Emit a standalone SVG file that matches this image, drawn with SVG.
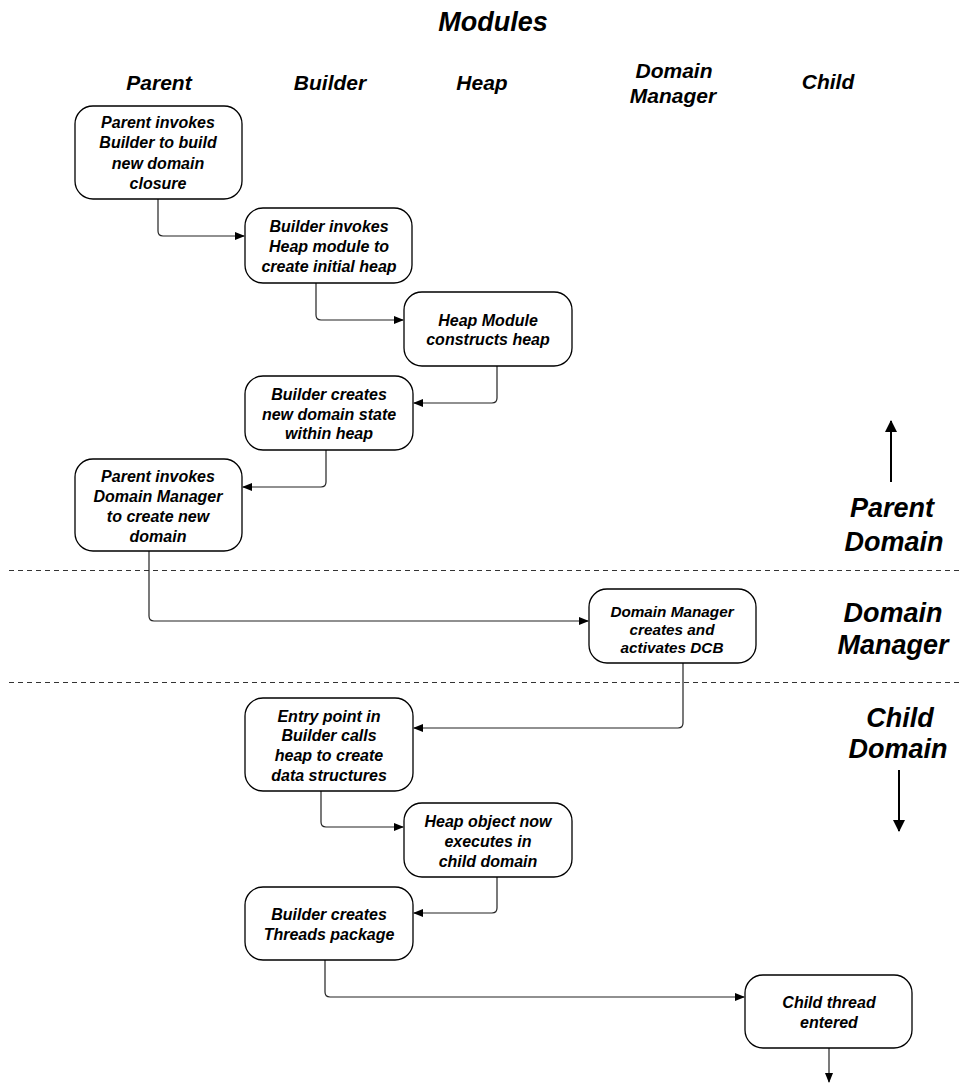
<svg xmlns="http://www.w3.org/2000/svg" width="962" height="1084" viewBox="0 0 962 1084">
  <style>
    text { font-family: "Liberation Sans", Arial, sans-serif; font-weight: bold; font-style: italic; fill: #000; text-anchor: middle; }
    .title { font-size: 27px; }
    .col { font-size: 21px; }
    .side { font-size: 27px; }
    .node rect { fill: #fff; stroke: #000; stroke-width: 1.3; }
    .node text { font-size: 16px; }
    .node text.sm { font-size: 15.3px; }
    .conn path { fill: none; stroke: #222; stroke-width: 1.2; }
    .sep { stroke: #333; stroke-width: 1; stroke-dasharray: 5 4; }
    .dir { stroke: #000; stroke-width: 2; }
  </style>
  <defs>
    <marker id="arr" markerWidth="10" markerHeight="8" refX="9" refY="4" orient="auto" markerUnits="userSpaceOnUse">
      <path d="M0,0 L10,4 L0,8 Z" fill="#000"/>
    </marker>
    <marker id="arrBig" markerWidth="12" markerHeight="12" refX="11" refY="6" orient="auto" markerUnits="userSpaceOnUse">
      <path d="M0,0 L12,6 L0,12 Z" fill="#000"/>
    </marker>
  </defs>

  <rect width="962" height="1084" fill="#fff"/>

  <!-- headings -->
  <text class="title" x="493" y="31">Modules</text>
  <text class="col" x="159" y="90">Parent</text>
  <text class="col" x="330" y="90">Builder</text>
  <text class="col" x="482" y="90">Heap</text>
  <text class="col" x="674" y="78">Domain</text>
  <text class="col" x="673" y="103">Manager</text>
  <text class="col" x="828" y="89">Child</text>

  <!-- domain separators -->
  <line class="sep" x1="9" y1="570.5" x2="962" y2="570.5"/>
  <line class="sep" x1="9" y1="682.5" x2="962" y2="682.5"/>

  <!-- domain labels and direction arrows -->
  <text class="side" x="892" y="517">Parent</text>
  <text class="side" x="894" y="551">Domain</text>
  <text class="side" x="893" y="622">Domain</text>
  <text class="side" x="893" y="654">Manager</text>
  <text class="side" x="900" y="727">Child</text>
  <text class="side" x="898" y="758">Domain</text>
  <line class="dir" x1="891" y1="482" x2="891" y2="421" marker-end="url(#arrBig)"/>
  <line class="dir" x1="899" y1="770" x2="899" y2="831" marker-end="url(#arrBig)"/>

  <!-- connectors -->
  <g class="conn" id="connectors">
    <path d="M158,199 V231 Q158,236 163,236 H244" marker-end="url(#arr)"/>
    <path d="M316,283 V315 Q316,320 321,320 H403" marker-end="url(#arr)"/>
    <path d="M497,366 V398 Q497,403 492,403 H414" marker-end="url(#arr)"/>
    <path d="M326,450 V482 Q326,487 321,487 H243" marker-end="url(#arr)"/>
    <path d="M149,551 V616 Q149,621 154,621 H588" marker-end="url(#arr)"/>
    <path d="M683,663 V723 Q683,728 678,728 H414" marker-end="url(#arr)"/>
    <path d="M321,791 V822 Q321,827 326,827 H403" marker-end="url(#arr)"/>
    <path d="M497,877 V908 Q497,913 492,913 H414" marker-end="url(#arr)"/>
    <path d="M325,960 V992 Q325,997 330,997 H744" marker-end="url(#arr)"/>
    <path d="M829,1048 V1082" marker-end="url(#arr)"/>
  </g>

  <!-- nodes -->
  <g class="node" id="parent-invokes-builder">
    <rect x="75" y="106" width="167" height="93" rx="18"/>
    <text x="158" y="128">Parent invokes</text>
    <text x="158" y="148">Builder to build</text>
    <text x="158" y="169">new domain</text>
    <text x="158" y="189">closure</text>
  </g>
  <g class="node" id="builder-invokes-heap">
    <rect x="245" y="208" width="167" height="75" rx="18"/>
    <text x="329" y="232">Builder invokes</text>
    <text x="329" y="252">Heap module to</text>
    <text x="329" y="272">create initial heap</text>
  </g>
  <g class="node" id="heap-constructs">
    <rect x="404" y="292" width="168" height="74" rx="18"/>
    <text x="488" y="326">Heap Module</text>
    <text x="488" y="345">constructs heap</text>
  </g>
  <g class="node" id="builder-domain-state">
    <rect x="245" y="376" width="168" height="74" rx="18"/>
    <text x="329" y="400">Builder creates</text>
    <text x="329" y="420">new domain state</text>
    <text x="329" y="439">within heap</text>
  </g>
  <g class="node" id="parent-invokes-dm">
    <rect x="75" y="459" width="167" height="92" rx="18"/>
    <text x="158" y="482">Parent invokes</text>
    <text x="158" y="502">Domain Manager</text>
    <text x="158" y="522">to create new</text>
    <text x="158" y="542">domain</text>
  </g>
  <g class="node" id="dm-activates-dcb">
    <rect x="589" y="589" width="167" height="74" rx="18"/>
    <text class="sm" x="672" y="617">Domain Manager</text>
    <text class="sm" x="672" y="635">creates and</text>
    <text class="sm" x="672" y="653">activates DCB</text>
  </g>
  <g class="node" id="entry-point">
    <rect x="245" y="698" width="168" height="93" rx="18"/>
    <text x="329" y="722">Entry point in</text>
    <text x="329" y="741">Builder calls</text>
    <text x="329" y="761">heap to create</text>
    <text x="329" y="781">data structures</text>
  </g>
  <g class="node" id="heap-child-domain">
    <rect x="404" y="803" width="168" height="74" rx="18"/>
    <text x="488" y="827">Heap object now</text>
    <text x="488" y="847">executes in</text>
    <text x="488" y="867">child domain</text>
  </g>
  <g class="node" id="builder-threads">
    <rect x="245" y="887" width="168" height="73" rx="18"/>
    <text x="329" y="920">Builder creates</text>
    <text x="329" y="940">Threads package</text>
  </g>
  <g class="node" id="child-thread">
    <rect x="745" y="975" width="167" height="73" rx="18"/>
    <text x="829" y="1008">Child thread</text>
    <text x="829" y="1028">entered</text>
  </g>
</svg>
